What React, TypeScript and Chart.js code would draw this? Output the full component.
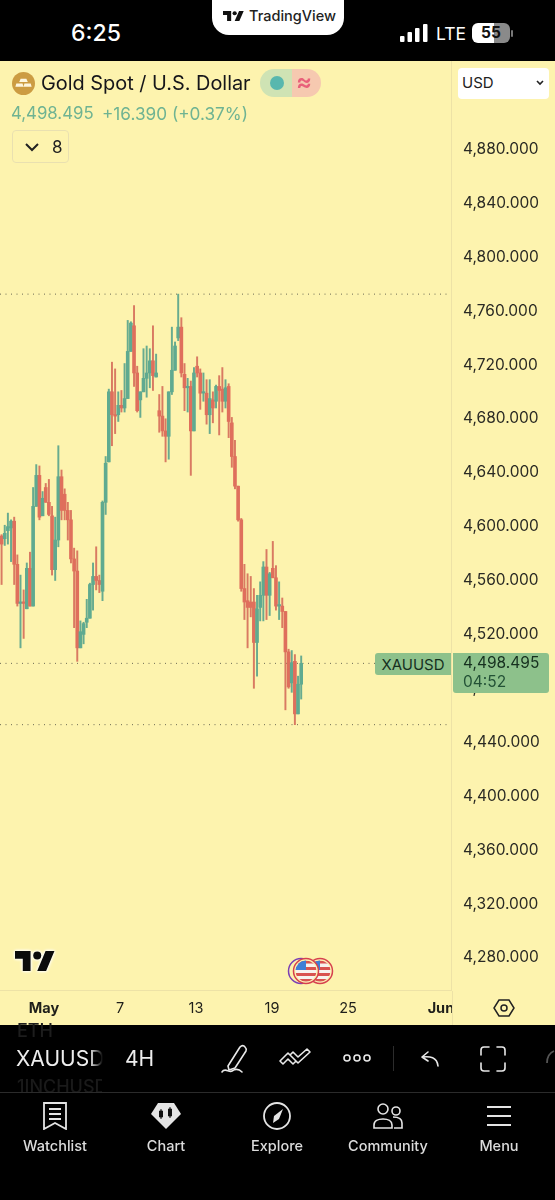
import React, { useEffect, useRef } from "react";
import { Chart, registerables } from "chart.js";

Chart.register(...registerables);

const opens = [4593,4591,4597,4599,4604,4572,4543,4544,4539,4569,4541,4615,4638,4608,4629,4618,4608,4568,4590,4637,4624,4612,4605,4576,4567,4510,4520,4529,4532,4557,4563,4560,4552,4618,4648,4700,4683,4683,4690,4688,4695,4730,4749,4714,4694,4700,4710,4714,4723,4711,4686,4682,4671,4667,4700,4716,4740,4748,4713,4703,4704,4671,4719,4714,4699,4699,4683,4694,4693,4704,4702,4693,4704,4677,4652,4630,4605,4554,4545,4544,4544,4514,4540,4549,4570,4549,4569,4562,4541,4541,4537,4507,4484,4500,4461,4483];
const highs = [4594,4601,4610,4605,4607,4579,4564,4553,4573,4581,4629,4646,4645,4626,4632,4635,4615,4607,4660,4642,4628,4618,4612,4584,4582,4530,4529,4546,4558,4573,4585,4564,4619,4652,4702,4722,4717,4700,4701,4721,4753,4752,4764,4719,4700,4732,4734,4732,4749,4728,4698,4704,4680,4700,4748,4737,4772.5,4755,4721,4710,4708,4718,4726,4717,4714,4709,4709,4700,4705,4712,4718,4709,4706,4681,4664,4630,4606,4572,4565,4563,4554,4549,4559,4574,4583,4566,4589,4571,4559,4547,4537,4509,4508,4505,4489,4504];
const lows = [4557,4586,4587,4574,4557,4541,4510,4517,4539,4541,4541,4615,4605,4608,4618,4608,4564,4560,4585,4605,4605,4590,4573,4525,4500,4510,4513,4525,4532,4538,4553,4551,4545,4609,4648,4660,4669,4678,4685,4685,4695,4730,4704,4685,4681,4700,4696,4703,4701,4711,4670,4667,4648,4650,4698,4716,4738,4711,4686,4685,4638,4671,4711,4687,4693,4676,4669,4677,4688,4668,4685,4688,4666,4644,4628,4604,4552,4531,4510,4533,4480,4489,4530,4530,4531,4534,4562,4538,4531,4525,4464,4480,4477,4453,4461,4472];
const closes = [4587,4595,4600,4604,4572,4543,4544,4543,4569,4541,4615,4638,4607,4621,4618,4609,4568,4590,4637,4612,4612,4605,4576,4567,4510,4522,4528,4532,4557,4563,4560,4557,4618,4647,4700,4683,4682,4690,4688,4695,4730,4751,4714,4686,4700,4710,4714,4723,4712,4714,4682,4671,4667,4700,4716,4734,4748,4714,4703,4704,4671,4714,4714,4699,4700,4683,4695,4688,4704,4701,4693,4703,4678,4652,4630,4605,4554,4544,4540,4540,4514,4539,4549,4570,4549,4565,4562,4541,4542,4537,4507,4481,4499,4461,4483,4498.495];

const priceTicks = [4880,4840,4800,4760,4720,4680,4640,4600,4560,4520,4480,4440,4400,4360,4320,4280];
const timeTickLabels = ["May","7","13","19","25","Jun"];
const timeTickBars = [13.45,37.55,61.65,85.75,109.85,139.3];
const levelLines = [4772.5,4498.495,4453];

const FONT = "Inter, 'Noto Sans', sans-serif";
const YELLOW = "#FDF3AE";
const GREEN = "#5FAA90";
const RED = "#DF6F5C";
const WICK_GREEN = "#68AB8F";
const WICK_RED = "#D97A62";
const AXIS_LINE = "#EDE2A6";

function CandleChart() {
  const ref = useRef<HTMLCanvasElement>(null);
  useEffect(() => {
    const xMin = -0.5;
    const xMax = 142.5;
    const chart = new Chart(ref.current as HTMLCanvasElement, {
      type: "bar",
      data: {
        datasets: [
          ...levelLines.map((v) => ({
            type: "line" as const,
            data: [{ x: xMin, y: v }, { x: xMax, y: v }],
            borderColor: "#6b6a55",
            borderWidth: 1,
            borderDash: [1, 4.5],
            pointRadius: 0,
            order: 3,
          })),
          {
            type: "bar" as const,
            data: highs.map((h, i) => ({ x: i, y: [lows[i], h] })),
            backgroundColor: closes.map((c, i) => (c >= opens[i] ? WICK_GREEN : WICK_RED)),
            barThickness: 1.3,
            grouped: false,
            order: 2,
          },
          {
            type: "bar" as const,
            data: opens.map((o, i) => ({ x: i, y: [o, closes[i]] })),
            backgroundColor: closes.map((c, i) => (c >= opens[i] ? GREEN : RED)),
            barThickness: 3,
            minBarLength: 1.5,
            grouped: false,
            order: 1,
          },
        ],
      } as any,
      options: {
        responsive: false,
        animation: false,
        devicePixelRatio: 1,
        layout: { padding: 0 },
        plugins: { legend: { display: false }, tooltip: { enabled: false } },
        scales: {
          x: {
            type: "linear",
            min: xMin,
            max: xMax,
            offset: false,
            grid: { display: false, drawTicks: false },
            border: { display: true, color: AXIS_LINE },
            afterBuildTicks: (s: any) => {
              s.ticks = timeTickBars.map((value) => ({ value }));
            },
            afterFit: (s: any) => {
              s.height = 35;
              s.paddingLeft = 0;
              s.paddingRight = 0;
            },
            ticks: {
              autoSkip: false,
              maxRotation: 0,
              padding: 10,
              color: "#1f1f1a",
              font: (c: any) => ({ family: FONT, size: 14.5, weight: c.index === 0 || c.index === 5 ? "700" : "400" }),
              callback: (_v: any, i: number) => timeTickLabels[i],
            },
          },
          y: {
            type: "linear",
            position: "right",
            min: 4256.1,
            max: 4945.5,
            grid: { display: false, drawTicks: false },
            border: { display: true, color: AXIS_LINE },
            afterBuildTicks: (s: any) => {
              s.ticks = priceTicks.map((value) => ({ value }));
            },
            afterFit: (s: any) => {
              s.width = 104;
              s.paddingTop = 0;
              s.paddingBottom = 0;
            },
            ticks: {
              autoSkip: false,
              padding: 12,
              color: "#2a2a24",
              font: { family: FONT, size: 15.5 },
              callback: (v: any) => Number(v).toLocaleString("en-US", { minimumFractionDigits: 3 }),
            },
          },
        },
      },
    } as any);
    return () => chart.destroy();
  }, []);
  return <canvas ref={ref} width={555} height={964} style={{ display: "block", position: "absolute", left: 0, top: 61 }} />;
}

const abs = (left: number, top: number, extra: React.CSSProperties = {}): React.CSSProperties => ({
  position: "absolute",
  left,
  top,
  whiteSpace: "nowrap",
  ...extra,
});

function TvLogo({ left, top, w, h, color, glow }: { left: number; top: number; w: number; h: number; color: string; glow?: boolean }) {
  return (
    <svg style={abs(left, top, glow ? { overflow: "visible", filter: "drop-shadow(0 0 1.5px #fff) drop-shadow(0 0 1px #fff)" } : {})} width={w} height={h} viewBox="0 0 36 18" preserveAspectRatio="none">
      <path d="M14 18H7V7H0V0h14v18zM28 18h-8l7.5-18h8L28 18z" fill={color} />
      <circle cx="20" cy="4" r="3.6" fill={color} />
    </svg>
  );
}

function Flag({ cx, ring, id }: { cx: number; ring: string; id: string }) {
  return (
    <g>
      <circle cx={cx} cy="14" r="12.5" fill={YELLOW} stroke={ring} strokeWidth="1.5" />
      <clipPath id={id}>
        <circle cx={cx} cy="14" r="10.5" />
      </clipPath>
      <g clipPath={`url(#${id})`}>
        <rect x={cx - 11} y="3" width="22" height="22" fill="#f7f3ee" />
        <rect x={cx - 11} y="3.5" width="22" height="3" fill="#d9534f" />
        <rect x={cx - 11} y="10" width="22" height="3" fill="#d9534f" />
        <rect x={cx - 11} y="16" width="22" height="3" fill="#d9534f" />
        <rect x={cx - 11} y="22" width="22" height="3" fill="#d9534f" />
        <rect x={cx - 11} y="3" width="11" height="10" fill="#3f7fd6" />
      </g>
    </g>
  );
}

const navItems = ["Watchlist", "Chart", "Explore", "Community", "Menu"];
const navCenters = [55, 166, 277, 388, 499];

function NavIcon({ i }: { i: number }) {
  const s = { fill: "none", stroke: "#e4e4e4", strokeWidth: 1.8 };
  return (
    <svg style={abs(navCenters[i] - 15, 1102)} width="30" height="28" viewBox="0 0 30 28">
      {i === 0 && (
        <g {...s}>
          <path d="M4 1h22v26l-11-6-11 6z" />
          <path d="M9 7h12M9 12h12M9 17h12" />
        </g>
      )}
      {i === 1 && (
        <g>
          <path d="M7 1h16l7 11-15 15L0 12z" fill="#e4e4e4" />
          <path d="M8.5 9h3v6h-3zM17.5 7h3v7h-3zM10 7v10M19 5v11" fill="#111" stroke="#111" strokeWidth="1" />
        </g>
      )}
      {i === 2 && (
        <g>
          <circle cx="15" cy="14" r="13" {...s} />
          <path d="M21 7l-4 10-6 4 1-7z" fill="#e4e4e4" />
        </g>
      )}
      {i === 3 && (
        <g {...s} strokeWidth="1.6">
          <circle cx="10" cy="7" r="5" />
          <circle cx="23" cy="9" r="4" />
          <path d="M1 26v-3c0-4 4-6 9-6s9 2 9 6v3z" />
          <path d="M20 15c6 0 9 2 9 6v5h-8" />
        </g>
      )}
      {i === 4 && (
        <g {...s}>
          <path d="M3 5h24M3 14h24M3 23h24" />
        </g>
      )}
    </svg>
  );
}

export default function App() {
  useEffect(() => {
    document.body.style.margin = "0";
    document.body.style.background = "#000";
  }, []);
  const white = "#ffffff";
  const ic = { fill: "none", stroke: "#e8e8e8", strokeWidth: 1.6, strokeLinecap: "round" as const, strokeLinejoin: "round" as const };
  return (
    <div style={{ position: "relative", width: 555, height: 1200, overflow: "hidden", background: "#000", fontFamily: FONT }}>
      <div style={abs(0, 61, { width: 555, height: 964, background: YELLOW })} />
      <CandleChart />

      {/* status bar */}
      <div style={abs(71, 19, { color: white, fontSize: 23, fontWeight: 500, lineHeight: "29px" })}>6:25</div>
      <div style={abs(212, 0, { width: 132, height: 35, background: "#fff", borderRadius: "0 0 17px 17px" })} />
      <TvLogo left={223} top={11} w={21} h={10} color="#111" />
      <div style={abs(249, 6, { color: "#222", fontSize: 14.5, lineHeight: "19px", fontWeight: 500 })}>TradingView</div>
      <svg style={abs(400, 24)} width="28" height="18" viewBox="0 0 28 18">
        <rect x="0" y="12" width="4.5" height="6" rx="1" fill={white} />
        <rect x="7.5" y="8" width="4.5" height="10" rx="1" fill={white} />
        <rect x="15" y="4" width="4.5" height="14" rx="1" fill={white} />
        <rect x="23" y="0" width="4.5" height="18" rx="1" fill={white} />
      </svg>
      <div style={abs(436, 23, { color: white, fontSize: 17.5, lineHeight: "21px", fontWeight: 400 })}>LTE</div>
      <div style={abs(472, 23, { width: 38, height: 20, borderRadius: 6, background: "linear-gradient(90deg,#fff 0 57%,#8a8a8a 57% 100%)", color: "#111", fontSize: 15.5, fontWeight: 700, lineHeight: "20px", textAlign: "center" })}>55</div>
      <div style={abs(511, 30, { width: 2, height: 7, background: "#777", borderRadius: 2 })} />

      {/* header */}
      <svg style={abs(12, 72)} width="23" height="23" viewBox="0 0 24 24">
        <circle cx="12" cy="12" r="12" fill="#CC9C42" />
        <path d="M9 7h6l1.5 3.5h-9zM4.5 12h6.5l1 3.5H3.5zM13 12h6.5l1 3.5H12z" fill="#fdf6df" />
      </svg>
      <div style={abs(41, 69, { color: "#15151a", fontSize: 19.9, lineHeight: "28px" })}>Gold Spot / U.S. Dollar</div>
      <div style={abs(260, 69, { width: 32, height: 28, background: "#CFE3B4", borderRadius: "14px 0 0 14px" })} />
      <div style={abs(292, 69, { width: 29, height: 28, background: "#F6C9B0", borderRadius: "0 14px 14px 0" })} />
      <div style={abs(270, 76, { width: 14, height: 14, background: "#58B7AE", borderRadius: "50%" })} />
      <div style={abs(296, 67, { color: "#E8607A", fontSize: 24, lineHeight: "30px", fontWeight: 600 })}>≈</div>
      <div style={abs(11, 102, { color: "#6FB392", fontSize: 16.8, lineHeight: "23px" })}>4,498.495</div>
      <div style={abs(102, 102, { color: "#6FB392", fontSize: 17.2, lineHeight: "23px" })}>+16.390 (+0.37%)</div>
      <div style={abs(12, 130, { width: 57, height: 33, boxSizing: "border-box", border: "1px solid #E9E0B0", borderRadius: 4 })} />
      <svg style={abs(24, 141)} width="16" height="12" viewBox="0 0 16 12">
        <path d="M2 3l6 6 6-6" fill="none" stroke="#222" strokeWidth="2" />
      </svg>
      <div style={abs(52, 136, { color: "#222", fontSize: 17, lineHeight: "22px" })}>8</div>
      <div style={abs(458, 68, { width: 91, height: 31, background: "#fff", borderRadius: 4 })} />
      <div style={abs(462, 73, { color: "#222", fontSize: 15, lineHeight: "20px" })}>USD</div>
      <svg style={abs(534, 79)} width="12" height="8" viewBox="0 0 12 8">
        <path d="M3 2l3 3 3-3" fill="none" stroke="#222" strokeWidth="1.6" />
      </svg>

      {/* price labels */}
      <div style={abs(375, 653, { width: 76, height: 22, background: "#8DC18B", borderRadius: "3px 0 0 3px", color: "#16301f", fontSize: 15, lineHeight: "23px", textAlign: "center" })}>XAUUSD</div>
      <div style={abs(453, 653, { width: 96, height: 40, background: "#8DC18B", borderRadius: "0 3px 3px 3px" })} />
      <div style={abs(463, 653, { color: "#16301f", fontSize: 15.5, lineHeight: "20px" })}>4,498.495</div>
      <div style={abs(463, 672, { color: "#235236", fontSize: 15.5, lineHeight: "20px" })}>04:52</div>

      {/* watermark and event flags */}
      <TvLogo left={15} top={951} w={40} h={20} color="#0b0b0b" glow />
      <svg style={abs(286, 957)} width="50" height="28" viewBox="0 0 50 28">
        <circle cx="15" cy="14" r="12.5" fill={YELLOW} stroke="#7B3FB5" strokeWidth="1.5" />
        <Flag cx={34} ring="#D6404F" id="fb" />
        <Flag cx={20} ring="#D6404F" id="ff" />
      </svg>

      {/* corner of the axes */}
      <div style={abs(452, 991, { width: 103, height: 34, background: YELLOW, borderLeft: `1px solid ${AXIS_LINE}` })} />
      <svg style={abs(493, 997)} width="22" height="22" viewBox="0 0 22 22">
        <path d="M6 3h10l5 8-5 8H6l-5-8z" fill="none" stroke="#222" strokeWidth="1.5" />
        <circle cx="11" cy="11" r="3" fill="none" stroke="#222" strokeWidth="1.5" />
      </svg>

      {/* toolbar */}
      <div style={abs(17, 1020, { color: "#1d1d1d", fontSize: 18, lineHeight: "22px", fontWeight: 500, height: 22 })}>ETH</div>
      <div style={abs(16, 1046, { color: "#eee", fontSize: 21, lineHeight: "26px", width: 87, overflow: "hidden", WebkitMaskImage: "linear-gradient(90deg,#000 85%,transparent)" })}>XAUUSD</div>
      <div style={abs(125, 1046, { color: "#eee", fontSize: 21, lineHeight: "26px" })}>4H</div>
      <div style={abs(17, 1076, { color: "#1a1a1a", fontSize: 18, lineHeight: "22px", fontWeight: 500, width: 85, overflow: "hidden" })}>1INCHUSD</div>
      <svg style={abs(220, 1044)} width="28" height="30" viewBox="0 0 28 30">
        <g {...ic}>
          <path d="M8 22L20 3q2-2 4-1l1 1q2 2 1 4L15 24l-6 2z" />
          <path d="M2 28c3-5 7 1 10-1s6-3 10 1" />
        </g>
      </svg>
      <svg style={abs(279, 1048)} width="32" height="20" viewBox="0 0 32 20">
        <g {...ic}>
          <path d="M1 13l8-8 8 8-3 3-5-5-5 5zM14 4l5 5 9-8 3 3-12 11-8-8z" />
        </g>
      </svg>
      <svg style={abs(342, 1052)} width="30" height="12" viewBox="0 0 30 12">
        <g {...ic}>
          <circle cx="5" cy="6" r="3" />
          <circle cx="15" cy="6" r="3" />
          <circle cx="25" cy="6" r="3" />
        </g>
      </svg>
      <div style={abs(393, 1046, { width: 1, height: 25, background: "#2c2c2c" })} />
      <svg style={abs(420, 1050)} width="20" height="17" viewBox="0 0 20 17">
        <g {...ic}>
          <path d="M8 2L2 7l6 4M2 7c8-1 15 0 16 9" />
        </g>
      </svg>
      <svg style={abs(479, 1045)} width="28" height="28" viewBox="0 0 28 28">
        <g {...ic}>
          <path d="M2 10V5q0-3 3-3h5M18 2h5q3 0 3 3v5M26 18v5q0 3-3 3h-5M10 26H5q-3 0-3-3v-5" />
        </g>
      </svg>
      <svg style={abs(546, 1048)} width="9" height="20" viewBox="0 0 9 20">
        <path d="M8 3Q1 6 1 15" fill="none" stroke="#555" strokeWidth="1.8" />
      </svg>
      <div style={abs(0, 1092, { width: 555, height: 1, background: "#2b2b2b" })} />

      {navItems.map((label, i) => (
        <React.Fragment key={label}>
          <NavIcon i={i} />
          <div style={abs(navCenters[i] - 60, 1137, { width: 120, textAlign: "center", color: "#dcdcdc", fontSize: 14.5, lineHeight: "18px", fontWeight: 500 })}>{label}</div>
        </React.Fragment>
      ))}
    </div>
  );
}
